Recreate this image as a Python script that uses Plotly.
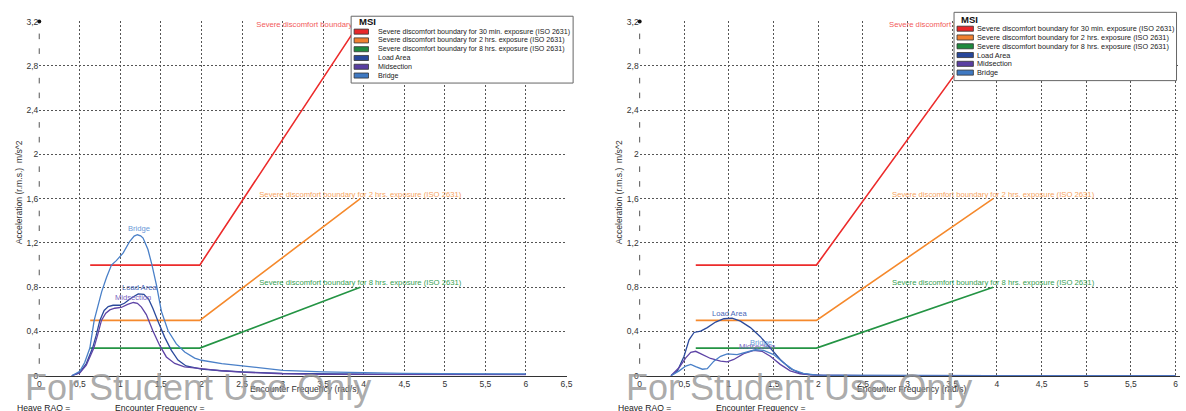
import plotly.graph_objects as go

W, H = 1186, 411

# ---------------- data ----------------
series_names = [
    "Severe discomfort boundary for 30 min. exposure (ISO 2631)",
    "Severe discomfort boundary for 2 hrs. exposure (ISO 2631)",
    "Severe discomfort boundary for 8 hrs. exposure (ISO 2631)",
    "Load Area",
    "Midsection",
    "Bridge",
]

# ISO 2631 severe discomfort boundaries (x in rad/s, acceleration in m/s^2)
bound_x = [0.628, 1.979, 3.958]
bound_30min_y = [1.0, 1.0, 3.2]
bound_2hrs_y = [0.5, 0.5, 1.6]
bound_8hrs_y = [0.25, 0.25, 0.8]

# Left chart
left_load_x = [0.40, 0.50, 0.58, 0.657, 0.70, 0.747, 0.80, 0.85, 0.91, 0.99, 1.05, 1.13, 1.22, 1.29,
               1.35, 1.40, 1.465, 1.547, 1.629, 1.71, 1.81, 2.0, 2.25, 2.5, 3.0, 3.5, 4.0, 4.5, 5.0, 5.5, 6.0]
left_load_y = [0.0, 0.03, 0.11, 0.25, 0.36, 0.50, 0.59, 0.625, 0.637, 0.637, 0.655, 0.70, 0.74, 0.735,
               0.69, 0.61, 0.49, 0.347, 0.229, 0.141, 0.088, 0.06, 0.045, 0.035, 0.022, 0.017, 0.015, 0.013, 0.012, 0.012, 0.012]
left_mid_x = [0.40, 0.50, 0.58, 0.673, 0.72, 0.767, 0.82, 0.87, 0.93, 1.01, 1.09, 1.16, 1.21, 1.26,
              1.32, 1.40, 1.485, 1.567, 1.67, 1.79, 2.0, 2.25, 2.5, 3.0, 3.5, 4.0, 5.0, 6.0]
left_mid_y = [0.0, 0.025, 0.095, 0.25, 0.37, 0.50, 0.565, 0.595, 0.61, 0.617, 0.645, 0.662, 0.655, 0.62,
              0.553, 0.406, 0.274, 0.17, 0.111, 0.08, 0.065, 0.045, 0.032, 0.018, 0.013, 0.012, 0.01, 0.01]
left_bridge_x = [0.40, 0.50, 0.56, 0.624, 0.677, 0.72, 0.77, 0.83, 0.89, 0.95, 1.035, 1.116, 1.17, 1.21,
                 1.25, 1.28, 1.34, 1.39, 1.445, 1.506, 1.588, 1.69, 1.793, 1.916, 2.0, 2.25, 2.5, 2.75,
                 3.0, 3.5, 4.0, 4.5, 5.0, 5.5, 6.0]
left_bridge_y = [0.0, 0.04, 0.12, 0.25, 0.50, 0.63, 0.76, 0.89, 1.0, 1.04, 1.11, 1.215, 1.262, 1.274,
                 1.265, 1.244, 1.141, 1.0, 0.818, 0.582, 0.406, 0.288, 0.214, 0.16, 0.14, 0.11, 0.088, 0.065,
                 0.048, 0.035, 0.027, 0.022, 0.02, 0.018, 0.017]

# Right chart
right_load_x = [0.35, 0.423, 0.497, 0.553, 0.609, 0.683, 0.757, 0.85, 0.943, 1.035, 1.128, 1.24, 1.351,
                1.463, 1.574, 1.685, 1.796, 1.908, 2.056, 2.3, 2.6, 3.0, 4.0, 5.0, 6.0]
right_load_y = [0.0, 0.044, 0.176, 0.324, 0.391, 0.403, 0.435, 0.485, 0.515, 0.521, 0.494, 0.435, 0.353,
                0.25, 0.147, 0.065, 0.024, 0.009, 0.004, 0.003, 0.002, 0.002, 0.002, 0.002, 0.002]
right_mid_x = [0.35, 0.442, 0.516, 0.572, 0.627, 0.702, 0.794, 0.906, 0.98, 1.054, 1.165, 1.277, 1.37,
               1.463, 1.574, 1.685, 1.796, 1.945, 2.2, 2.5, 3.0, 4.0, 5.0, 6.0]
right_mid_y = [0.0, 0.074, 0.162, 0.212, 0.221, 0.191, 0.156, 0.132, 0.126, 0.147, 0.2, 0.229, 0.221,
               0.176, 0.103, 0.044, 0.018, 0.006, 0.003, 0.002, 0.002, 0.002, 0.002, 0.002]
right_bridge_x = [0.35, 0.442, 0.516, 0.572, 0.627, 0.702, 0.757, 0.831, 0.906, 0.98, 1.091, 1.203, 1.295,
                  1.388, 1.5, 1.61, 1.72, 1.833, 1.982, 2.2, 2.5, 3.0, 4.0, 5.0, 6.0]
right_bridge_y = [0.0, 0.044, 0.088, 0.103, 0.082, 0.059, 0.065, 0.132, 0.176, 0.197, 0.191, 0.212, 0.235,
                  0.229, 0.191, 0.118, 0.053, 0.021, 0.006, 0.004, 0.003, 0.002, 0.002, 0.002, 0.002]

xtick_vals = [0, 0.5, 1, 1.5, 2, 2.5, 3, 3.5, 4, 4.5, 5, 5.5, 6, 6.5]
xtick_text = ["0", "0,5", "1", "1,5", "2", "2,5", "3", "3,5", "4", "4,5", "5", "5,5", "6", "6,5"]
ytick_vals = [0, 0.4, 0.8, 1.2, 1.6, 2.0, 2.4, 2.8, 3.2]
ytick_text = ["0", "0,4", "0,8", "1,2", "1,6", "2", "2,4", "2,8", "3,2"]

y_title = "Acceleration (r.m.s.)\u00a0 m/s^2"
x_title = "Encounter Frequency (rad/s)"
watermark = "For Student Use Only"
footer_texts = ["Heave RAO =", "Encounter Frequency ="]
legend_title = "MSI"

# ---------------- styles ----------------
FONT = "Liberation Sans, Arial, sans-serif"
line_colors = ["#ec2b2b", "#f5892c", "#249444", "#2b4a9c", "#5e44a6", "#4a80c8"]
swatch_colors = ["#e8282a", "#f08030", "#1e8a3e", "#27479a", "#5a3fa2", "#3f79c2"]
label_colors = ["#f25a5a", "#f7a460", "#36a052", "#4867b8", "#7a62c0", "#6a9ad8"]


def px_x(v):
    return v / W


def px_y(v):
    return (H - v) / H


panels = [
    dict(xa="x", ya="y", xdom=[37.5, 568.6], xr=[0, 6.503],
         curves=[(left_load_x, left_load_y), (left_mid_x, left_mid_y), (left_bridge_x, left_bridge_y)],
         label_shift=[(1, 6), (0, 5), (1.5, 6)],
         legend=dict(x0=351.5, x1=575, y0=11.5, y1=80, title=(357, 17), sw=(354.5, 369), tx=376.5,
                     row0=27.3, fs=7.1),
         ytitle=(17, 192), xtitle=(305, 394), wm=21, foot=[13, 112]),
    dict(xa="x2", ya="y2", xdom=[642, 1186], xr=[0, 6.05],
         curves=[(right_load_x, right_load_y), (right_mid_x, right_mid_y), (right_bridge_x, right_bridge_y)],
         label_shift=[(-3, 5), (3, 4), (6, 7)],
         legend=dict(x0=958.5, x1=1182.5, y0=7.5, y1=77.5, title=(964, 15), sw=(961.5, 978), tx=980,
                     row0=24.3, fs=7.3),
         ytitle=(622, 192), xtitle=(916, 394), wm=626, foot=[618, 717]),
]

fig = go.Figure()
annotations = []
shapes = []
boundaries = [bound_30min_y, bound_2hrs_y, bound_8hrs_y]
minor_y = [k * 0.4 / 3 for k in range(1, 24) if k % 3 != 0]

for p in panels:
    xa, ya = p["xa"], p["ya"]
    # boundaries
    for i, by in enumerate(boundaries):
        fig.add_trace(go.Scatter(x=bound_x, y=by, mode="lines", xaxis=xa, yaxis=ya,
                                 line=dict(color=line_colors[i], width=1.6), hoverinfo="skip",
                                 showlegend=False, name=series_names[i]))
    # response curves
    for j, (cx, cy) in enumerate(p["curves"]):
        fig.add_trace(go.Scatter(x=cx, y=cy, mode="lines", xaxis=xa, yaxis=ya,
                                 line=dict(color=line_colors[3 + j], width=1.3), hoverinfo="skip",
                                 showlegend=False, name=series_names[3 + j]))
    # boundary labels (as text traces so the legend box covers them)
    for i, by in enumerate(boundaries):
        fig.add_trace(go.Scatter(x=[bound_x[-1]], y=[by[-1]], mode="text", xaxis=xa, yaxis=ya,
                                 text=[series_names[i]],
                                 textposition="bottom center" if i == 0 else "top center",
                                 textfont=dict(family=FONT, size=7.7, color=label_colors[i]),
                                 hoverinfo="skip", showlegend=False))
    # curve labels at peaks
    for j, (cx, cy) in enumerate(p["curves"]):
        k = cy.index(max(cy))
        dx, dy = p["label_shift"][j]
        annotations.append(dict(x=cx[k], y=cy[k], xref=xa, yref=ya, text=series_names[3 + j],
                                showarrow=False, xshift=dx, yshift=dy, yanchor="middle",
                                font=dict(family=FONT, size=7.6, color=label_colors[3 + j])))
    # y-axis minor marks and top dot
    fig.add_trace(go.Scatter(x=[0] * len(minor_y), y=minor_y, mode="markers", xaxis=xa, yaxis=ya,
                             marker=dict(symbol="line-ns", size=4, line=dict(width=1, color="#555")),
                             cliponaxis=False, hoverinfo="skip", showlegend=False))
    fig.add_trace(go.Scatter(x=[0], y=[ytick_vals[-1]], mode="markers", xaxis=xa, yaxis=ya,
                             marker=dict(symbol="circle", size=4, color="#111"),
                             cliponaxis=False, hoverinfo="skip", showlegend=False))

    # axis titles
    annotations.append(dict(x=px_x(p["ytitle"][0]), y=px_y(p["ytitle"][1]), xref="paper", yref="paper",
                            text=y_title, textangle=-90, showarrow=False, xanchor="center", yanchor="middle",
                            font=dict(family=FONT, size=8.6, color="#333")))
    annotations.append(dict(x=px_x(p["xtitle"][0]), y=px_y(p["xtitle"][1]), xref="paper", yref="paper",
                            text=x_title, showarrow=False, xanchor="center", yanchor="middle",
                            font=dict(family=FONT, size=8.6, color="#333")))
    # footer texts
    for t, fx in zip(footer_texts, p["foot"]):
        annotations.append(dict(x=px_x(fx), y=px_y(405.5), xref="paper", yref="paper", text=t,
                                showarrow=False, xanchor="left", yanchor="top",
                                font=dict(family=FONT, size=8.6, color="#222")))
    # watermark
    annotations.append(dict(x=px_x(p["wm"]), y=px_y(392.5), xref="paper", yref="paper", text=watermark,
                            showarrow=False, xanchor="left", yanchor="middle",
                            font=dict(family=FONT, size=36, color="rgba(150,150,150,0.8)")))

    # manual compact legend
    lg = p["legend"]
    shapes.append(dict(type="rect", xref="paper", yref="paper", layer="above",
                       x0=px_x(lg["x0"]), x1=px_x(lg["x1"]), y0=px_y(lg["y1"]), y1=px_y(lg["y0"]),
                       fillcolor="white", line=dict(color="#666", width=1)))
    annotations.append(dict(x=px_x(lg["title"][0]), y=px_y(lg["title"][1]), xref="paper", yref="paper",
                            text="<b>" + legend_title + "</b>", showarrow=False, xanchor="left",
                            yanchor="middle", font=dict(family=FONT, size=9.5, color="#111")))
    for i, nm in enumerate(series_names):
        ry = lg["row0"] + 9 * i
        shapes.append(dict(type="rect", xref="paper", yref="paper", layer="above",
                           x0=px_x(lg["sw"][0]), x1=px_x(lg["sw"][1]), y0=px_y(ry + 2.6), y1=px_y(ry - 2.6),
                           fillcolor=swatch_colors[i], line=dict(color="#333", width=0.8)))
        annotations.append(dict(x=px_x(lg["tx"]), y=px_y(ry), xref="paper", yref="paper", text=nm,
                                showarrow=False, xanchor="left", yanchor="middle",
                                font=dict(family=FONT, size=lg["fs"], color="#222")))

axis_common = dict(
    tickmode="array", tickvals=xtick_vals, ticktext=xtick_text,
    showgrid=True, gridcolor="#555", gridwidth=1, griddash="2px,2px",
    zeroline=False, showline=True, linecolor="#333", linewidth=1, ticks="",
    tickfont=dict(family=FONT, size=8.5, color="#333"), fixedrange=True,
)
yaxis_common = dict(
    tickmode="array", tickvals=ytick_vals, ticktext=ytick_text, range=[0, 3.202],
    showgrid=True, gridcolor="#555", gridwidth=1, griddash="2px,2px",
    zeroline=False, showline=False, ticks="",
    tickfont=dict(family=FONT, size=8.5, color="#333"), fixedrange=True,
    domain=[px_y(380), px_y(16.8)],
)

fig.update_layout(
    width=W, height=H, autosize=False,
    margin=dict(l=0, r=0, t=0, b=0, pad=0),
    paper_bgcolor="white", plot_bgcolor="white",
    font=dict(family=FONT, size=8.5, color="#333"),
    showlegend=False,
    xaxis=dict(axis_common, domain=[px_x(panels[0]["xdom"][0]), px_x(panels[0]["xdom"][1])],
               range=panels[0]["xr"], anchor="y"),
    yaxis=dict(yaxis_common, anchor="x"),
    xaxis2=dict(axis_common, domain=[px_x(panels[1]["xdom"][0]), 1.0],
                range=panels[1]["xr"], anchor="y2"),
    yaxis2=dict(yaxis_common, anchor="x2"),
    annotations=annotations,
    shapes=shapes,
)

fig.write_html(
    "out.html",
    config={"displayModeBar": False},
    post_script="document.body.style.margin='0px';document.body.style.overflow='hidden';",
)
